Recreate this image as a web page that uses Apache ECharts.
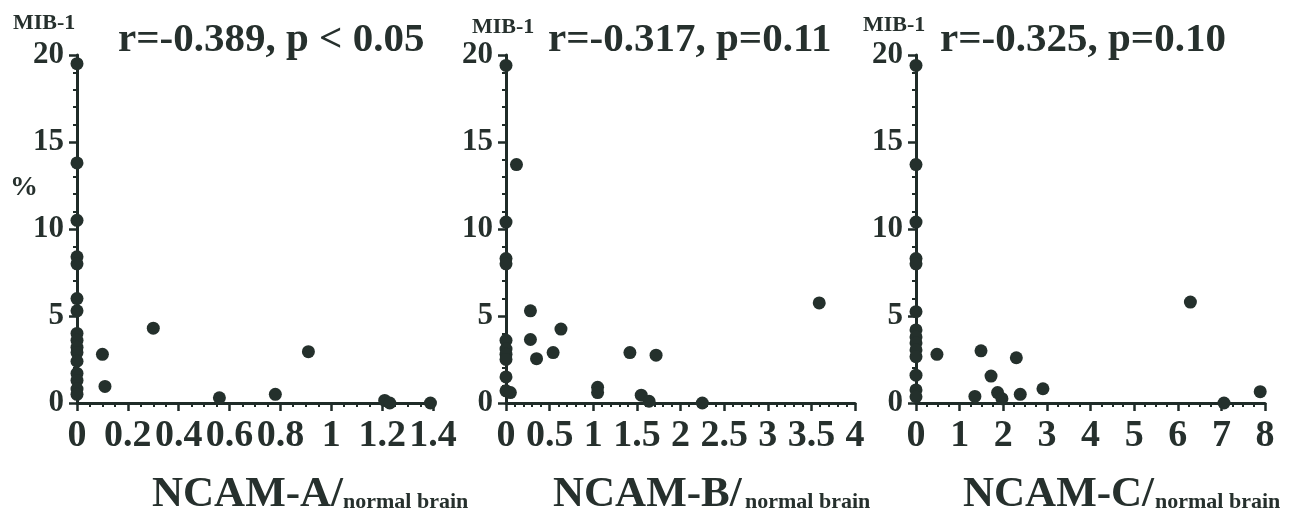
<!DOCTYPE html>
<html><head><meta charset="utf-8">
<script src="https://cdn.jsdelivr.net/npm/echarts@6/dist/echarts.min.js"></script>
<style>html,body{margin:0;padding:0;background:#fff}#c{width:1298px;height:522px}</style>
</head><body><div id="c"></div>
<script>
// ---- data ----
const yTicks = [0, 5, 10, 15, 20];
const xTicksA = [0, 0.2, 0.4, 0.6, 0.8, 1, 1.2, 1.4];
const xTicksB = [0, 0.5, 1, 1.5, 2, 2.5, 3, 3.5, 4];
const xTicksC = [0, 1, 2, 3, 4, 5, 6, 7, 8];

const axisNames = ['NCAM-A/', 'NCAM-B/', 'NCAM-C/'];
const axisSub = 'normal brain';
const yName = 'MIB-1';
const yUnit = '%';
const stats = ['r=-0.389, p < 0.05', 'r=-0.317, p=0.11', 'r=-0.325, p=0.10'];

// NCAM-A vs MIB-1
const ncamA = [0, 0, 0, 0, 0, 0, 0, 0, 0, 0, 0, 0, 0, 0, 0, 0,
  0.10, 0.11, 0.30, 0.56, 0.78, 0.91, 1.21, 1.23, 1.39];
const mibA = [19.5, 13.8, 10.5, 8.4, 8.0, 6.0, 5.3, 4.0, 3.6, 3.2, 2.9, 2.4, 1.7, 1.3, 0.8, 0.5,
  2.8, 0.95, 4.3, 0.3, 0.5, 2.95, 0.15, 0.0, 0.0];

// NCAM-B vs MIB-1
const ncamB = [0, 0.12, 0, 0, 0, 0, 0, 0, 0, 0, 0, 0.05,
  0.28, 0.28, 0.35, 0.54, 0.63, 1.05, 1.05, 1.42, 1.72, 1.55, 1.64, 2.25, 3.59];
const mibB = [19.4, 13.7, 10.4, 8.3, 8.0, 3.6, 3.1, 2.8, 2.5, 1.5, 0.7, 0.6,
  5.3, 3.65, 2.55, 2.9, 4.25, 0.9, 0.6, 2.9, 2.75, 0.45, 0.1, 0.0, 5.75];

// NCAM-C vs MIB-1
const ncamC = [0, 0, 0, 0, 0, 0, 0, 0, 0, 0, 0, 0, 0, 0,
  0.48, 1.49, 2.30, 1.72, 1.35, 1.87, 1.97, 2.39, 2.91, 6.29, 7.06, 7.89];
const mibC = [19.4, 13.7, 10.4, 8.3, 8.0, 5.25, 4.2, 3.8, 3.45, 3.05, 2.66, 1.6, 0.75, 0.36,
  2.8, 3.0, 2.6, 1.55, 0.38, 0.6, 0.25, 0.5, 0.82, 5.8, 0.0, 0.65];

// ---- chart ----
const INK = '#1f2b28';
const TXT = '#26302d';
const FONT = '"Liberation Serif", "Times New Roman", serif';

const grids = [
  { left: 77, top: 55, width: 356, height: 348 },
  { left: 506, top: 55, width: 349, height: 348 },
  { left: 916, top: 55, width: 349, height: 348 }
];
const xTickSets = [xTicksA, xTicksB, xTicksC];
const minorSplits = [4, 5, 4];
const xs = [ncamA, ncamB, ncamC];
const ys = [mibA, mibB, mibC];

function zip(a, b) { return a.map((v, i) => [v, b[i]]); }

const axisLineStyle = { show: true, onZero: false, lineStyle: { color: INK, width: 3 } };

const option = {
  backgroundColor: '#ffffff',
  animation: false,
  grid: grids.map(g => Object.assign({ containLabel: false, outerBoundsMode: 'none' }, g)),
  xAxis: xTickSets.map((t, i) => ({
    type: 'value', gridIndex: i,
    min: t[0], max: t[t.length - 1], interval: t[1] - t[0],
    axisLine: axisLineStyle,
    axisTick: { show: true, length: 8, lineStyle: { color: INK, width: 2.5 } },
    minorTick: { show: true, splitNumber: minorSplits[i], length: 4, lineStyle: { color: INK, width: 2 } },
    splitLine: { show: false },
    axisLabel: { color: TXT, fontFamily: FONT, fontWeight: 'bold', fontSize: 38, margin: 14,
      formatter: v => String(Math.round(v * 100) / 100) }
  })),
  yAxis: xTickSets.map((t, i) => ({
    type: 'value', gridIndex: i,
    min: yTicks[0], max: yTicks[yTicks.length - 1], interval: yTicks[1] - yTicks[0],
    axisLine: axisLineStyle,
    axisTick: { show: true, length: 8, lineStyle: { color: INK, width: 2.5 } },
    minorTick: { show: true, splitNumber: 5, length: 4, lineStyle: { color: INK, width: 2 } },
    splitLine: { show: false },
    axisLabel: { color: TXT, fontFamily: FONT, fontWeight: 'bold', fontSize: 31, margin: 13 }
  })),
  series: xs.map((x, i) => ({
    type: 'scatter', xAxisIndex: i, yAxisIndex: i,
    data: zip(x, ys[i]), symbol: 'circle', symbolSize: 13, clip: false,
    itemStyle: { color: '#24302c', opacity: 1 }, z: 5
  })),
  graphic: [
    // MIB-1 labels
    { type: 'text', left: 13, top: 12, style: { text: yName, font: 'bold 22px ' + FONT, fill: TXT } },
    { type: 'text', left: 472, top: 16, style: { text: yName, font: 'bold 22px ' + FONT, fill: TXT } },
    { type: 'text', left: 863, top: 14, style: { text: yName, font: 'bold 22px ' + FONT, fill: TXT } },
    // %
    { type: 'text', left: 10, top: 174, style: { text: yUnit, font: 'bold 28px ' + FONT, fill: TXT } },
    // stats
    { type: 'text', left: 118, top: 20, style: { text: stats[0], font: 'bold 41px ' + FONT, fill: TXT } },
    { type: 'text', left: 548, top: 20, style: { text: stats[1], font: 'bold 41px ' + FONT, fill: TXT } },
    { type: 'text', left: 940, top: 20, style: { text: stats[2], font: 'bold 41px ' + FONT, fill: TXT } },
    // axis names
    { type: 'text', left: 152, top: 473, style: { text: axisNames[0], font: 'bold 43px ' + FONT, fill: TXT } },
    { type: 'text', left: 343, top: 491, style: { text: axisSub, font: 'bold 22px ' + FONT, fill: TXT } },
    { type: 'text', left: 553, top: 473, style: { text: axisNames[1], font: 'bold 43px ' + FONT, fill: TXT } },
    { type: 'text', left: 745, top: 491, style: { text: axisSub, font: 'bold 22px ' + FONT, fill: TXT } },
    { type: 'text', left: 963, top: 473, style: { text: axisNames[2], font: 'bold 43px ' + FONT, fill: TXT } },
    { type: 'text', left: 1155, top: 491, style: { text: axisSub, font: 'bold 22px ' + FONT, fill: TXT } }
  ]
};

const chart = echarts.init(document.getElementById('c'), null, { renderer: 'canvas' });
chart.setOption(option);
</script>
</body></html>
